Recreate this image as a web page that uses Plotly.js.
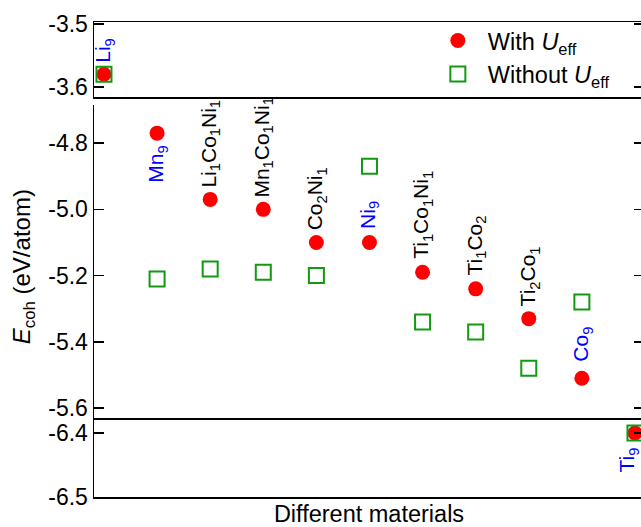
<!DOCTYPE html>
<html>
<head>
<meta charset="utf-8">
<script src="https://cdn.plot.ly/plotly-3.0.1.min.js"></script>
<style>
html,body{margin:0;padding:0;overflow:hidden;background:#fff;}
#chart{width:660px;height:527px;}
</style>
</head>
<body>
<div id="chart"></div>
<script>
// ---- data ----
const materials = [
  'Li<sub>9</sub>', 'Mn<sub>9</sub>', 'Li<sub>1</sub>Co<sub>1</sub>Ni<sub>1</sub>',
  'Mn<sub>1</sub>Co<sub>1</sub>Ni<sub>1</sub>', 'Co<sub>2</sub>Ni<sub>1</sub>', 'Ni<sub>9</sub>',
  'Ti<sub>1</sub>Co<sub>1</sub>Ni<sub>1</sub>', 'Ti<sub>1</sub>Co<sub>2</sub>', 'Ti<sub>2</sub>Co<sub>1</sub>',
  'Co<sub>9</sub>', 'Ti<sub>9</sub>'
];
const pureElement = [true, true, false, false, false, true, false, false, false, true, true];
const withUeff    = [-3.58, -4.77, -4.97, -5.00, -5.10, -5.10, -5.19, -5.24, -5.33, -5.51, -6.40];
const withoutUeff = [-3.58, -5.21, -5.18, -5.19, -5.20, -4.87, -5.34, -5.37, -5.48, -5.28, -6.40];
const topTicks = [-3.5, -3.6];
const midTicks = [-4.8, -5.0, -5.2, -5.4, -5.6];
const botTicks = [-6.4, -6.5];

// ---- styling ----
const FONT = 'Liberation Sans, Arial, Helvetica, sans-serif';
const idx = materials.map((_, i) => i);
const labelBelowSet = new Set([1, 10]);
const labelShift = [10, 11, 10, 10, 10, 12, 11, 11, 10, 15, 12];
const labelXShift = [0, 0, 0, 0, 0, 0, 0, 0, 0, 0, -7];
const fmt = v => v.toFixed(1); // hyphen-minus as in the reference

const panels = [
  {x: 'x', y: 'y'},
  {x: 'x2', y: 'y2'},
  {x: 'x3', y: 'y3'}
];
const data = [];
panels.forEach((p, k) => {
  data.push({
    x: idx, y: withUeff, xaxis: p.x, yaxis: p.y, type: 'scatter', mode: 'markers',
    name: 'With <i>U</i><sub>eff</sub>', legendgroup: 'a', showlegend: k === 1,
    marker: {symbol: 'circle', size: 15, color: '#ff0000'}
  });
  data.push({
    x: idx, y: withoutUeff, xaxis: p.x, yaxis: p.y, type: 'scatter', mode: 'markers',
    name: 'Without <i>U</i><sub>eff</sub>', legendgroup: 'b', showlegend: k === 1,
    marker: {symbol: 'square-open', size: 15, color: '#119911', line: {width: 2, color: '#119911'}}
  });
});

function panelOf(v) {
  if (v > -4) return 'y';
  if (v > -6) return 'y2';
  return 'y3';
}
const annotations = materials.map((m, i) => {
  const below = labelBelowSet.has(i);
  const yr = panelOf(withUeff[i]);
  return {
    x: i, y: withUeff[i], xref: yr === 'y' ? 'x' : (yr === 'y2' ? 'x2' : 'x3'), yref: yr,
    text: m, showarrow: false, textangle: -90,
    xanchor: 'center', yanchor: below ? 'top' : 'bottom',
    yshift: below ? -labelShift[i] : labelShift[i], xshift: labelXShift[i],
    font: {family: FONT, size: 21, color: pureElement[i] ? '#0000ff' : '#000000'}
  };
});
annotations.push({
  xref: 'paper', yref: 'paper', x: -0.128, y: 0.485, xanchor: 'center', yanchor: 'middle',
  text: '<i>E</i><sub>coh</sub> (eV/atom)', textangle: -90, showarrow: false,
  font: {family: FONT, size: 24, color: '#000'}
});

const xRange = [-0.188, 10.17];
const xBase = {range: xRange, showgrid: false, zeroline: false, showticklabels: false,
  ticks: '', showline: true, linecolor: '#000', linewidth: 1.5};
const yBase = {showgrid: false, zeroline: false, showline: true, linecolor: '#000', linewidth: 1.5,
  ticks: 'inside', ticklen: 10, tickwidth: 1.5, tickcolor: '#000', mirror: 'ticks',
  tickfont: {family: FONT, size: 23, color: '#000'}, tickmode: 'array'};

const layout = {
  width: 660, height: 527,
  margin: {l: 94, r: 16, t: 22, b: 30},
  paper_bgcolor: '#fff', plot_bgcolor: '#fff',
  font: {family: FONT, size: 21, color: '#000'},
  xaxis:  Object.assign({}, xBase, {anchor: 'y', mirror: true}),
  xaxis2: Object.assign({}, xBase, {anchor: 'y2', mirror: false}),
  xaxis3: Object.assign({}, xBase, {anchor: 'y3', mirror: false, automargin: false,
    title: {text: 'Different materials', font: {family: FONT, size: 23.5, color: '#000'}, standoff: 11}}),
  yaxis:  Object.assign({}, yBase, {domain: [0.8421, 1.0], range: [-3.616, -3.497],
    tickvals: topTicks, ticktext: topTicks.map(fmt), anchor: 'x'}),
  yaxis2: Object.assign({}, yBase, {domain: [0.1663, 0.8253], range: [-5.630, -4.685],
    tickvals: midTicks, ticktext: midTicks.map(fmt), anchor: 'x2'}),
  yaxis3: Object.assign({}, yBase, {domain: [0.0, 0.1642], range: [-6.5, -6.378],
    tickvals: botTicks, ticktext: botTicks.map(fmt), anchor: 'x3'}),
  showlegend: true,
  legend: {x: 0.607, y: 1.007, xanchor: 'left', yanchor: 'top', bgcolor: 'rgba(0,0,0,0)',
    font: {family: FONT, size: 23.5, color: '#000'}, itemwidth: 50, traceorder: 'normal'},
  annotations: annotations
};

Plotly.newPlot('chart', data, layout, {staticPlot: true, displayModeBar: false});
</script>
</body>
</html>
